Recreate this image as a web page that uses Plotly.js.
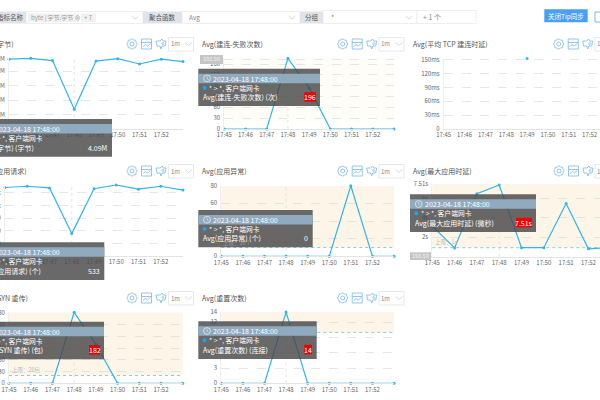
<!DOCTYPE html>
<html><head><meta charset="utf-8">
<script src="https://cdn.plot.ly/plotly-3.0.1.min.js"></script>
<style>html,body{margin:0;padding:0;background:#fff;overflow:hidden}#c{width:600px;height:400px}</style>
</head><body><div id="c"></div><script>
const times=['17:45','17:46','17:47','17:48','17:49','17:50','17:51','17:52','17:53'];
const tickTimes=times.slice(0,8);
const bytesVals=[14.5,14.67,14.2,4.09,14.1,14.6,13.5,14.5,14.0];
const failVals=[0,0,0,196,114,0,0,0,0];
const tcpVals=[null,null,null,null,153,null,null,null,null];
const reqVals=[1630,1660,1620,533,1600,1690,1590,1660,1570];
const errVals=[0,0,0,0,0,0,80,0,0];
const latVals=[3.16,0.9,6.5,7.4,0.93,0.93,5.5,0.82,0.93];
const synVals=[0,0,0,182,100,0,0,0,0];
const rstVals=[0,0,0,14,0,0,0,0,0];
const FONT='"Noto Sans CJK SC","Noto Sans",sans-serif';
const X=p=>p/600, Y=p=>1-p/400;
const charts=[
 {v:bytesVals,x:[9,183],y:[129,58],range:[0,14.74],xr:8,tv:[3,6,9,12,14.6],tt:['3M','6M','9M','12M','15M'],spike:1},
 {v:failVals,x:[224.3,394],y:[129,58],range:[0,197],xr:8,tv:[30,60,90,120,150,180,193.5],tt:['30','60','90','120','150','180',''],th:20,faint:1,spike:1},
 {v:tcpVals,x:[443.7,600],y:[129,58.5],range:[0,153],xr:7.5,tv:[30,60,90,120,150],tt:['30ms','60ms','90ms','120ms','150ms']},
 {v:reqVals,x:[5,183],y:[256,185],range:[0,1690],xr:8,tv:[300,600,900,1200,1500],tt:['300','600','900','1.2k','1.5k'],spike:1},
 {v:errVals,x:[221.3,394],y:[256.3,185.7],range:[0,80],xr:8,tv:[20,40,60,80],tt:['20','40','60','80'],th:10,spike:1},
 {v:latVals,x:[432.3,600],y:[256.7,184],range:[0,7.51],xr:7.52,tv:[2,4,6,7.51],tt:['2s','4s','6s','7.51s'],th:0.93,spike:1},
 {v:synVals,x:[9,182.7],y:[383.3,312.3],range:[0,182],xr:8,tv:[30,60,90,120,150,180],tt:['30','60','90','120','150','180'],th:20,spike:1},
 {v:rstVals,x:[221.3,394],y:[383.3,312],range:[0,14],xr:8,tv:[3,6,9,12,14],tt:['3','6','9','12','14'],th:10,spike:1}
];
const traces=[],shapes=[],ann=[],layout={};
const LINE='#33b5ea';
function rect(x0,y0,x1,y1,fill,line,lw){shapes.push({type:'rect',layer:'above',xref:'paper',yref:'paper',x0:X(x0),x1:X(x1),y0:Y(y0),y1:Y(y1),fillcolor:fill||'rgba(0,0,0,0)',line:{color:line||'rgba(0,0,0,0)',width:line?(lw||1):0}});}
function path(pts,color,w,close,fill){const d=pts.map((p,i)=>(i?'L':'M')+X(p[0]).toFixed(5)+','+Y(p[1]).toFixed(5)).join(' ')+(close?' Z':'');
 shapes.push({type:'path',layer:'above',xref:'paper',yref:'paper',path:d,fillcolor:fill||'rgba(0,0,0,0)',line:{color:color,width:w||1}});}
function circ(cx,cy,r,color,w,fill){shapes.push({type:'circle',layer:'above',xref:'paper',yref:'paper',x0:X(cx-r),x1:X(cx+r),y0:Y(cy+r),y1:Y(cy-r),fillcolor:fill||'rgba(0,0,0,0)',line:{color:color,width:w||1}});}
function txt(x,y,text,o){o=o||{};ann.push({xref:'paper',yref:'paper',x:X(x),y:Y(y),text,showarrow:false,xanchor:o.a||'left',yanchor:'middle',font:{family:FONT,size:o.s||7,color:o.c||'#666'},borderpad:0,borderwidth:0});}
function chev(cx,cy){path([[cx-3.5,cy-1.5],[cx,cy+1.5],[cx+3.5,cy-1.5]],'#c8c8c8',0.7);}

charts.forEach((c,i)=>{
 const n=i?i+1:'';
 traces.push({type:'scatter',mode:'lines+markers',x:times,y:c.v,xaxis:'x'+n,yaxis:'y'+n,line:{color:LINE,width:1.2},marker:{color:LINE,size:3},cliponaxis:false,connectgaps:false,hoverinfo:'skip'});
 layout['xaxis'+n]={domain:[X(c.x[0]),X(c.x[1])],anchor:'y'+n,type:'category',categoryorder:'array',categoryarray:times,range:[0,c.xr],tickvals:tickTimes,ticktext:tickTimes,tickfont:{family:FONT,size:6,color:'#666'},showgrid:false,showline:true,linecolor:'#e4e4e4',linewidth:1,ticks:'',zeroline:false,tickangle:0};
 layout['yaxis'+n]={domain:[Y(c.y[0]),Y(c.y[1])],anchor:'x'+n,range:c.range,tickmode:'array',tickvals:[0].concat(c.tv),ticktext:['0'].concat(c.tt),tickfont:{family:FONT,size:6,color:'#666'},ticklabelstandoff:2,showgrid:true,gridcolor:'#dcdcdc',griddash:'dash',gridwidth:0.7,showline:true,linecolor:'#eeeeee',linewidth:1,ticks:'',zeroline:false};
 if(c.th!==undefined){
  shapes.push({type:'rect',layer:'below',xref:'x'+n+' domain',yref:'y'+n,x0:0,x1:1,y0:c.th,y1:c.range[1],fillcolor:c.faint?'#fffdf8':'#fdf5e8',line:{width:0}});
  if(!c.faint) shapes.push({type:'line',layer:'below',xref:'x'+n+' domain',yref:'y'+n,x0:0,x1:1,y0:c.th,y1:c.th,line:{color:'#6cc3dc',width:0.8,dash:'dot'}});
 }
 if(c.spike) shapes.push({type:'line',layer:'below',xref:'x'+n,yref:'y'+n+' domain',x0:'17:48',x1:'17:48',y0:0,y1:1,line:{color:'#dddddd',width:0.8,dash:'dot'}});
});

/* header bar */
function label(x0,x1,t){rect(x0,11.5,x1,23.5,'#dfe3ea');txt((x0+x1)/2,17.5,t,{a:'center',c:'#555',s:6.5});}
rect(26,11.5,143,23.5,'#fff','#eeeeee');rect(182,11.5,300,23.5,'#fff','#eeeeee');rect(323,10.5,417,23.5,'#fff','#eeeeee');rect(417,10.5,476,23.5,'#fff','#eeeeee');
label(-6,26,'指标名称');label(143,182,'聚合函数');label(300,323,'分组');
rect(28,13.5,79,22,'#f1f1f1');rect(81,13.5,96,22,'#f1f1f1');
txt(31,17.5,'byte | 字节:字节 ⊗',{s:6,c:'#999'});txt(84,17.5,'+ 7',{s:6,c:'#999'});
txt(189,17.5,'Avg',{s:6.5,c:'#888'});txt(331,17,'*',{s:7,c:'#888'});txt(423,17.5,'+ 1 个',{s:7,c:'#888'});
chev(135,17.5);chev(292,17.5);chev(409,17.5);
rect(544.3,9.3,587.7,22.3,'#4a9ff5');txt(566,16,'关闭Tip同步',{a:'center',c:'#fff',s:6.5});
rect(595,12,606,22,'#fff','#7ab8ea',1);

/* chart titles + controls */
const titles=[['Avg(字节)',14,44,'right'],['Avg(建连-失败次数)',202,44],['Avg(平均 TCP 建连时延)',413,44],
 ['Avg(应用请求)',27,171,'right'],['Avg(应用异常)',202,171],['Avg(最大应用时延)',413,171],
 ['Avg(SYN 重传)',28,298,'right'],['Avg(重置次数)',202,298]];
titles.forEach(t=>txt(t[1],t[2],t[0],{a:t[3]||'left',c:'#555',s:7}));
const ICON='#7ab8ea';
function gear(cx,cy){const p=[];for(let k=0;k<16;k++){const r=k%2?4.4:5.2;const a=k*Math.PI/8;p.push([cx+r*Math.cos(a),cy+r*Math.sin(a)]);}path(p,ICON,0.8,true);circ(cx,cy,2,ICON,0.8);}
function dash(cx,cy){rect(cx-5,cy-5,cx+5,cy+5,null,ICON,0.8);path([[cx-5,cy-1.5],[cx+5,cy-1.5]],ICON,0.8);path([[cx-3.5,cy+2.5],[cx-1,cy+0.5],[cx+1,cy+2],[cx+4,cy-0.5]],ICON,0.8);}
function third(cx,cy){path([[cx-5,cy-3],[cx-1,cy-3],[cx+1,cy-5],[cx+2,cy-3],[cx+5,cy-3],[cx+4,cy+2],[cx+1,cy+2],[cx,cy+5],[cx-1,cy+2],[cx-4,cy+2]],ICON,0.8,true);circ(cx+2,cy-0.5,1,ICON,0.7);}
function ctl(g,y,sel){gear(g,y);dash(g+14.5,y);third(g+29,y);rect(sel,y-6.5,sel+25,y+7,'#fff','#e8e8e8');txt(sel+2,y,'1m',{s:6,c:'#888'});chev(sel+20,y);}
[[132,44,168.5],[342.7,44,379],[558.7,44,595],[132,171,168.5],[342.7,171,379],[559,171,595],[132,298,168.5],[342.7,298,379]].forEach(a=>ctl(a[0],a[1],a[2]));

/* threshold labels */
txt(12,370,'上限：20包',{s:5.5,c:'#bbb'});txt(435,241.5,'上限：1s',{s:5.5,c:'#bbb'});
txt(223,243,'上限：10个',{s:5.5,c:'#999'});

/* floating value labels */
function grey(x0,x1,y0,y1){rect(x0,y0,x1,y1,'#c6c6c6');txt((x0+x1)/2,(y0+y1)/2,'193.50',{a:'center',c:'#f2f2f2',s:5.5});}
grey(200,223,55,64);grey(410,431,252.3,260);

/* tooltips */
const DARK='rgba(72,72,72,0.82)',BAND='rgba(146,172,194,0.97)';
const tipDate='2023-04-18 17:48:00',tipSrc='*\u00a0>\u00a0*,\u00a0客户端网卡';
const tips=[
 {b:[-4,119,112,156.7],m:'Avg(字节) (字节)',val:'4.09M',vx:107},
 {b:[198.3,68.7,320,106],m:'Avg(建连-失败次数) (次)',val:'196',red:[304.3,316]},
 {b:[-4,242.3,104.3,280],m:'Avg(应用请求) (个)',val:'533',vx:100},
 {b:[198.3,210,312.7,247.3],m:'Avg(应用异常) (个)',val:'0',vx:308},
 {b:[410,194.3,536,232],m:'Avg(最大应用时延) (微秒)',val:'7.51s',red:[516,532]},
 {b:[-4,321.7,104,359.3],m:'Avg(SYN 重传) (包)',val:'182',red:[89,100]},
 {b:[198.3,321.3,316.7,359],m:'Avg(重置次数) (连接)',val:'14',red:[304.3,312]}
];
tips.forEach(t=>{
 const [x0,y0,x1,y1]=t.b,left=x0<0;
 rect(x0,y0,x1,y1,DARK);rect(x0,y0+5,x1,y0+14.5,BAND);
 const a=left?'right':'left';
 if(!left){circ(x0+8.7,y0+9.7,3.4,'#f4f4f4',0.7);path([[x0+8.7,y0+7.6],[x0+8.7,y0+9.9],[x0+10.3,y0+10.8]],'#f4f4f4',0.6);}
 txt(left?60:x0+14.5,y0+9.8,tipDate,{a,c:'#fff',s:7});
 if(!left)circ(x0+6.3,y0+19,1.8,'#19a7e8',0.5,'#19a7e8');
 txt(left?43:x0+11,y0+19,tipSrc,{a,c:'#fff',s:6.8});
 txt(left?(t.val==='182'?42.7:(t.val==='533'?41:34)):x0+4.5,y0+28.5,t.m,{a,c:'#fff',s:7});
 if(t.red){rect(t.red[0],y0+23.5,t.red[1],y0+33,'#ee0000');txt((t.red[0]+t.red[1])/2,y0+28.5,t.val,{a:'center',c:'#fff',s:7});}
 else txt(t.vx,y0+28.5,t.val,{a:'right',c:'#fff',s:7});
});

Object.assign(layout,{width:600,height:400,margin:{l:0,r:0,t:0,b:0},paper_bgcolor:'#fff',plot_bgcolor:'rgba(0,0,0,0)',showlegend:false,hovermode:false,shapes,annotations:ann,font:{family:FONT}});
Plotly.newPlot('c',traces,layout,{displayModeBar:false,staticPlot:true});
</script></body></html>
